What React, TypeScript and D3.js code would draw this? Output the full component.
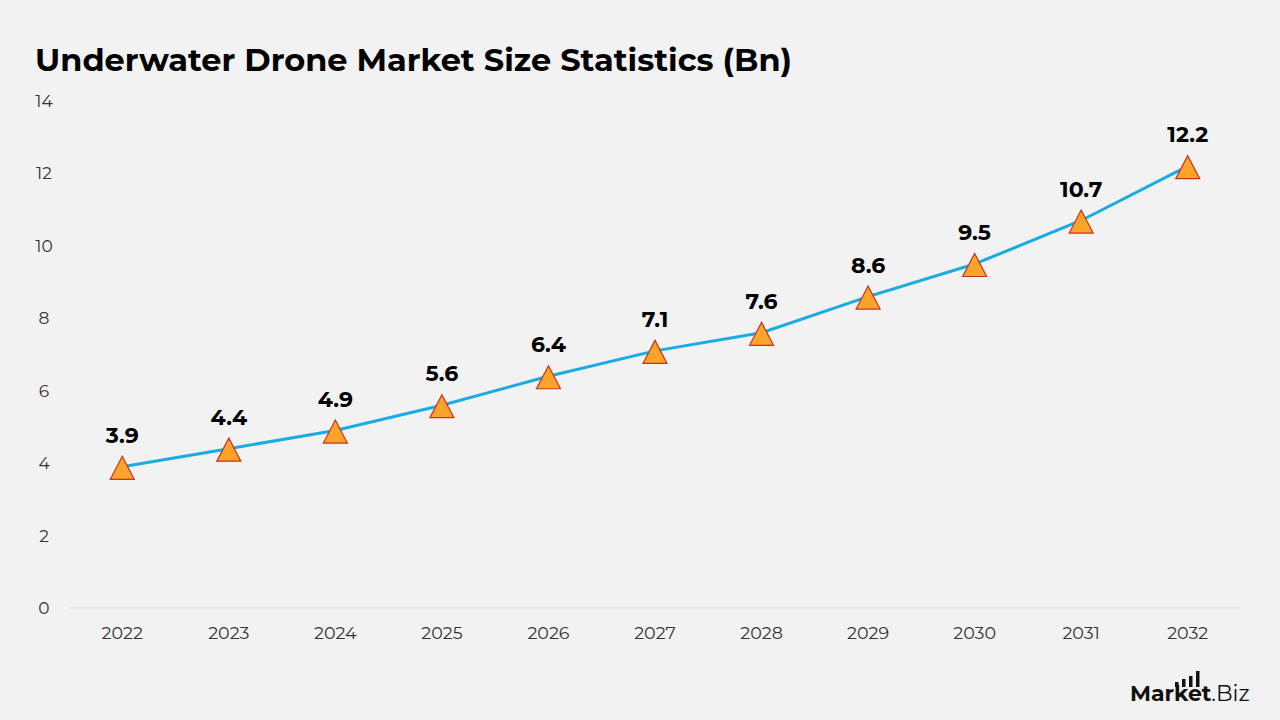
import React, { useRef, useEffect } from "react";
import * as d3 from "d3";

const years = ["2022", "2023", "2024", "2025", "2026", "2027", "2028", "2029", "2030", "2031", "2032"];
const marketSize = [3.9, 4.4, 4.9, 5.6, 6.4, 7.1, 7.6, 8.6, 9.5, 10.7, 12.2];
const yTicks = [0, 2, 4, 6, 8, 10, 12, 14];

const width = 1280;
const height = 720;
const font = "Montserrat, 'Open Sans', 'DejaVu Sans', sans-serif";

// upright triangle, 24 wide x 23 tall, centred slightly above its base
const triangle = {
    draw(context: d3.Path, size: number) {
        const w = Math.sqrt(size) / 2;
        const h = w * 0.96;
        context.moveTo(0, -h);
        context.lineTo(w, h);
        context.lineTo(-w, h);
        context.closePath();
    }
};

const App = () => {
    const plot = useRef<SVGSVGElement>(null);

    useEffect(() => {
        const svg = d3.select(plot.current);
        svg.selectAll("*").remove();

        const data = years.map((y, i) => ({ year: y, value: marketSize[i] }));

        const xScale = d3.scaleBand().domain(years).range([69, 1241]);
        const yScale = d3.scaleLinear().domain([0, 14]).range([608, 101]);
        const cx = (d: string) => (xScale(d) as number) + xScale.bandwidth() / 2;

        svg.append("rect").attr("width", width).attr("height", height).attr("fill", "#f2f2f2");

        // title
        svg.append("text")
            .attr("x", 35)
            .attr("y", 71)
            .attr("font-family", font)
            .attr("font-weight", 700)
            .attr("font-size", 31)
            .attr("fill", "#000")
            .attr("textLength", 757)
            .attr("lengthAdjust", "spacingAndGlyphs")
            .text("Underwater Drone Market Size Statistics (Bn)");

        // y axis labels
        svg.append("g")
            .selectAll("text")
            .data(yTicks)
            .join("text")
            .attr("x", 44)
            .attr("y", d => yScale(d) + 6)
            .attr("text-anchor", "middle")
            .attr("font-family", font)
            .attr("font-size", 17)
            .attr("fill", "#333")
            .text(d => d);

        // baseline
        svg.append("line")
            .attr("x1", 69).attr("x2", 1241)
            .attr("y1", yScale(0)).attr("y2", yScale(0))
            .attr("stroke", "#d9d9d9")
            .attr("stroke-width", 1);

        // x axis labels
        svg.append("g")
            .selectAll("text")
            .data(years)
            .join("text")
            .attr("x", d => cx(d))
            .attr("y", 639)
            .attr("text-anchor", "middle")
            .attr("font-family", font)
            .attr("font-size", 17.5)
            .attr("fill", "#333")
            .text(d => d);

        const line = d3.line<{ year: string; value: number }>()
            .x(d => cx(d.year))
            .y(d => yScale(d.value));

        svg.append("path")
            .attr("fill", "none")
            .attr("stroke", "#1aabe3")
            .attr("stroke-width", 3)
            .attr("d", line(data));

        const tri = d3.symbol().type(triangle).size(576);
        svg.append("g")
            .selectAll("path")
            .data(data)
            .join("path")
            .attr("transform", d => `translate(${cx(d.year)}, ${yScale(d.value) + 1})`)
            .attr("d", tri())
            .attr("fill", "#fca32c")
            .attr("stroke", "#c8321e")
            .attr("stroke-width", 1.2);

        svg.append("g")
            .selectAll("text")
            .data(data)
            .join("text")
            .attr("x", d => cx(d.year))
            .attr("y", d => yScale(d.value) - 24)
            .attr("text-anchor", "middle")
            .attr("font-family", font)
            .attr("font-weight", 700)
            .attr("font-size", 22)
            .attr("fill", "#000")
            .text(d => d.value.toFixed(1));

        // logo
        const logo = svg.append("g");
        logo.append("text")
            .attr("x", 1130)
            .attr("y", 701)
            .attr("font-family", font)
            .attr("font-size", 22)
            .attr("fill", "#111")
            .call(t => t.append("tspan").attr("font-weight", 700).text("Market"))
            .call(t => t.append("tspan").attr("font-weight", 400).text(".Biz"));
        [[1175, 5], [1182, 8], [1189, 11], [1196, 16]].forEach(([x, h]) => {
            logo.append("rect")
                .attr("x", x).attr("y", 687 - h)
                .attr("width", 3.5).attr("height", h)
                .attr("fill", "#111");
        });
    });

    return (
        <svg ref={plot} width={width} height={height} style={{ display: "block", position: "absolute", left: 0, top: 0 }} />
    );
};

export default App;
